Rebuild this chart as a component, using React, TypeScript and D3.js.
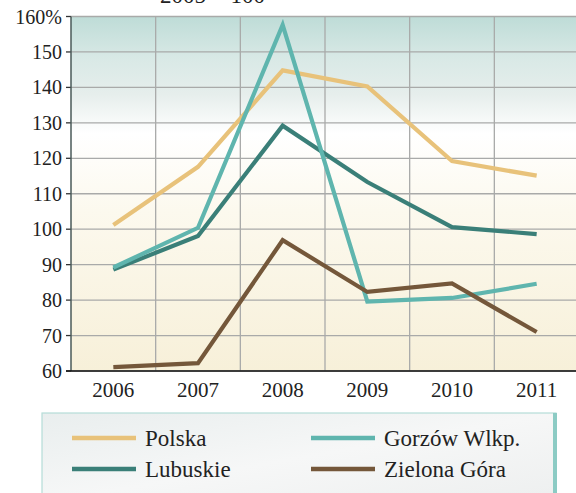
import React from "react";
import * as d3 from "d3";

const years = ["2006", "2007", "2008", "2009", "2010", "2011"];
const polska = [101.2, 117.6, 144.8, 140.3, 119.2, 115.1];
const gorzow = [89.2, 100.4, 157.6, 79.6, 80.6, 84.6];
const lubuskie = [88.6, 98.1, 129.2, 113.3, 100.6, 98.6];
const zielona = [61.1, 62.2, 96.9, 82.3, 84.7, 71.0];
const yTicks = [60, 70, 80, 90, 100, 110, 120, 130, 140, 150, 160];

const series = [
  { name: "Polska", values: polska, color: "#E8C27A" },
  { name: "Gorzów Wlkp.", values: gorzow, color: "#5FB5AE" },
  { name: "Lubuskie", values: lubuskie, color: "#3A7F78" },
  { name: "Zielona Góra", values: zielona, color: "#74573A" },
];

const W = 576, H = 493;
const left = 71, top = 16.5, bottom = 371, right = 579;
const font = "Liberation Serif, serif";

export default function App() {
  const x = d3.scaleBand().domain(years).range([left, right]);
  const y = d3.scaleLinear().domain([60, 160]).range([bottom, top]);
  const line = d3
    .line<number>()
    .x((_, i) => (x(years[i]) as number) + x.bandwidth() / 2)
    .y((d) => y(d));
  const order = [series[0], series[2], series[1], series[3]];
  const tstyle = { fontFamily: font };
  return (
    <svg width={W} height={H} style={{ position: "absolute", left: 0, top: 0 }}>
      <defs>
        <linearGradient id="bg" x1="0" y1="0" x2="0" y2="1">
          <stop offset="0" stopColor="#BEDCD7" />
          <stop offset="0.12" stopColor="#D9E9E6" />
          <stop offset="0.22" stopColor="#E6EEEC" />
          <stop offset="0.33" stopColor="#FFFFFF" />
          <stop offset="0.55" stopColor="#FCF9EE" />
          <stop offset="1" stopColor="#F7F0D9" />
        </linearGradient>
        <linearGradient id="lg" x1="0" y1="0" x2="1" y2="1">
          <stop offset="0" stopColor="#E9EEEE" />
          <stop offset="0.5" stopColor="#F6F7F7" />
          <stop offset="1" stopColor="#EDEFEF" />
        </linearGradient>
      </defs>
      <rect x={0} y={0} width={W} height={H} fill="#fff" />
      <text x={160} y={3} fontSize={23} fill="#222" style={tstyle}>2005 = 100</text>
      <rect x={left} y={top} width={right - left} height={bottom - top} fill="url(#bg)" />
      {yTicks.map((t) => (
        <line key={"g" + t} x1={left} x2={right} y1={y(t)} y2={y(t)} stroke="#A9AAA9" strokeWidth={1.3} />
      ))}
      {years.slice(1).map((yr) => (
        <line key={"v" + yr} x1={x(yr)} x2={x(yr)} y1={top} y2={bottom} stroke="#A9AAA9" strokeWidth={1.3} />
      ))}
      {yTicks.map((t) => (
        <g key={"t" + t}>
          <line x1={66} x2={left} y1={y(t)} y2={y(t)} stroke="#333" strokeWidth={1.3} />
          <text x={62} y={y(t) + 7} textAnchor="end" fontSize={20} fill="#222" style={tstyle}>
            {t === 160 ? "160%" : t}
          </text>
        </g>
      ))}
      <line x1={left} x2={left} y1={top} y2={bottom} stroke="#4A5A58" strokeWidth={1.5} />
      <line x1={66} x2={W} y1={bottom} y2={bottom} stroke="#111" strokeWidth={1.5} />
      {years.map((yr) => (
        <text key={"x" + yr} x={(x(yr) as number) + x.bandwidth() / 2} y={397} textAnchor="middle" fontSize={21} fill="#222" style={tstyle}>
          {yr}
        </text>
      ))}
      {order.map((s) => (
        <path key={s.name} d={line(s.values) || ""} fill="none" stroke={s.color} strokeWidth={4.2} strokeLinejoin="miter" />
      ))}
      <rect x={42} y={413} width={514} height={90} fill="url(#lg)" stroke="#B5DDD8" strokeWidth={1.2} />
      <rect x={553} y={413} width={4} height={90} fill="#8CCBC4" />
      {series.map((s, i) => {
        const col = i % 2;
        const r = i < 2 ? 0 : 1;
        const lx = col === 0 ? 72 : 311;
        const ly = r === 0 ? 438 : 469;
        return (
          <g key={"l" + s.name}>
            <line x1={lx} x2={lx + 64} y1={ly} y2={ly} stroke={s.color} strokeWidth={4.5} />
            <text x={lx + 73} y={ly + 8} fontSize={23} fill="#222" style={tstyle}>{s.name}</text>
          </g>
        );
      })}
    </svg>
  );
}
